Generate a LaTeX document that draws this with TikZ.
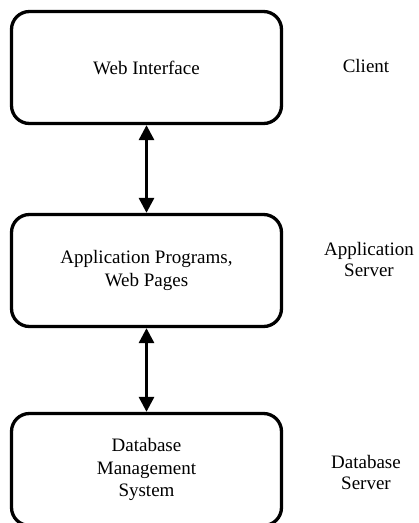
\documentclass[tikz,border=0pt]{standalone}
\usepackage{fontspec}
\setmainfont{Liberation Serif}
\usetikzlibrary{arrows.meta}
\begin{document}
\begin{tikzpicture}[x=1pt,y=-1pt,
  tier/.style={draw,line width=3.3pt,rounded corners=18pt,minimum width=270pt,minimum height=112pt,inner sep=0pt,align=center,font=\fontsize{19}{22.5}\selectfont},
  lbl/.style={align=center,font=\fontsize{19}{21}\selectfont,inner sep=0pt},
  link/.style={line width=3pt,{Triangle[width=15pt,length=15pt]}-{Triangle[width=15pt,length=15pt]}}]
\useasboundingbox (0,0) rectangle (419,523);
\begin{scope}
\clip (0,0) rectangle (419,523);
\node[tier] (web) at (146.5,67.5) {Web Interface};
\node[tier] (app) at (146.5,270.5) {Application Programs,\\Web Pages};
\node[tier] (db) at (146.5,469.5) {Database\\Management\\System};
\end{scope}
\node[lbl] (client) at (366,66) {Client};
\node[lbl] (appsrv) at (369,259) {Application\\Server};
\node[lbl] (dbsrv) at (366,472) {Database\\Server};
\draw[link] (web.south) -- (app.north);
\draw[link] (app.south) -- (db.north);
\end{tikzpicture}
\end{document}
